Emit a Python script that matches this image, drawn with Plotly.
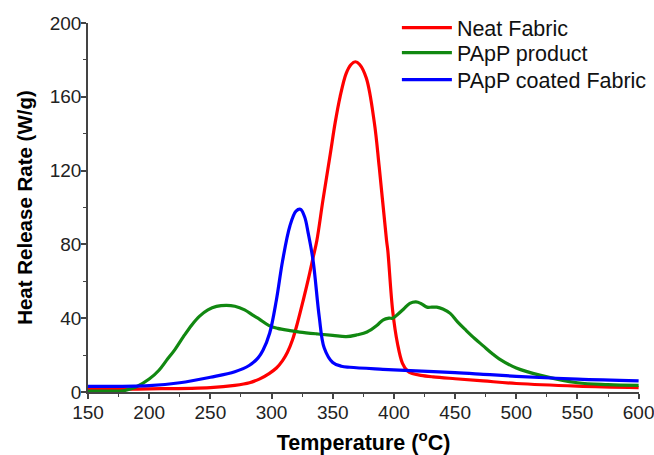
import plotly.graph_objects as go

# ---- data ----
neat_T = [150, 200, 250, 270, 282, 290, 298, 304, 309, 313, 317, 321, 326, 330, 334, 337, 342, 348,
          352, 356, 361, 365, 368.5, 372, 377.5, 384, 388, 394, 395, 399, 403, 407, 411, 415, 422,
          432, 450, 473, 500, 550, 600]
neat_V = [1.5, 1.7, 2.4, 3.6, 5, 7, 10, 13, 17, 21.5, 28, 37, 50, 61, 73, 82, 104, 129,
          146, 160, 172.7, 177.5, 179, 177.5, 170, 146, 122, 82, 76.8, 44, 26, 15.5, 11.5, 10, 9,
          8.2, 7.2, 6, 4.6, 3.2, 2.4]

papp_T = [150, 170, 180, 190, 200, 208, 214, 221, 228, 235, 241, 248, 255, 263, 270, 278, 285,
          290, 298, 305, 315, 323, 337, 350, 361, 370, 378, 386, 391, 396, 399, 403, 408, 413,
          418, 422, 427, 431, 435, 440, 446, 452, 459, 466, 473, 480, 486, 500, 520, 550, 575, 600]
papp_V = [0.5, 0.5, 0.8, 3, 7, 11.8, 17, 23, 30, 36.5, 41, 44.5, 46.4, 47, 46.5, 44.5, 41.5,
          39.5, 36, 34.5, 33.3, 32.5, 31.5, 30.7, 30, 31, 32.5, 36, 39, 40, 40, 42, 45, 48,
          48.8, 48, 46, 46, 46, 45, 42.6, 38, 33.4, 29, 25, 21, 18, 13, 9, 5, 4, 3.6]

coat_T = [150, 200, 225, 250, 270, 282, 289, 293, 298.5, 304, 309, 315, 320, 323.6, 327, 330, 334,
          339, 343, 350, 357, 364, 391, 418, 450, 473, 500, 550, 600]
coat_V = [3.1, 3.5, 5, 8, 11, 14.5, 18.5, 22.6, 32, 50, 71, 90, 98, 99, 95, 86, 71,
          40.6, 24, 16, 14, 13.4, 12.3, 11.4, 10.5, 9.6, 8.5, 7, 6]

names = ["Neat Fabric", "PApP product", "PApP coated Fabric"]
colors = ["#FF0000", "#118811", "#0000FF"]

x_ticks = [150, 200, 250, 300, 350, 400, 450, 500, 550, 600]
y_ticks = [0, 40, 80, 120, 160, 200]

FONT = "Liberation Sans, Arial, sans-serif"
legend_ids = ["legend", "legend2", "legend3"]
legend_y = [1.043, 0.975, 0.902]

fig = go.Figure()
for i, (T, V) in enumerate([(neat_T, neat_V), (papp_T, papp_V), (coat_T, coat_V)]):
    fig.add_trace(go.Scatter(x=T, y=V, name=names[i], mode="lines", legend=legend_ids[i],
                             showlegend=True,
                             line=dict(color=colors[i], width=3.2, shape="spline", smoothing=1.0)))

axis_common = dict(showgrid=False, zeroline=False, showline=True, linecolor="#444444",
                   linewidth=1.5, ticks="outside", ticklen=5, tickwidth=1.5, tickcolor="#444444",
                   tickfont=dict(family=FONT, size=19, color="#222222"),
                   mirror=False, automargin=False, ticklabeloverflow="allow")

fig.update_xaxes(range=[150, 600.3], tickvals=x_ticks, tickangle=0, ticklabelstandoff=-3,
                 minor=dict(ticks="outside", ticklen=3, tickwidth=1.2, tickcolor="#444444", dtick=25, tick0=150),
                 title=dict(text="Temperature (<sup>o</sup>C)", standoff=17,
                            font=dict(family=FONT, size=21.5, color="#000000", weight="bold")),
                 **axis_common)
fig.update_yaxes(range=[0, 200], tickvals=y_ticks, ticklabelstandoff=-4,
                 minor=dict(ticks="outside", ticklen=3, tickwidth=1.2, tickcolor="#444444", dtick=20, tick0=0),
                 title=dict(text="Heat Release Rate (W/g)", standoff=12,
                            font=dict(family=FONT, size=20.5, color="#000000", weight="bold")),
                 **axis_common)

legend_style = dict(x=0.5606, xanchor="left", yanchor="top",
                    font=dict(family=FONT, size=21.5, color="#111111"),
                    bgcolor="rgba(0,0,0,0)", itemwidth=50)

fig.update_layout(
    width=654, height=455,
    showlegend=True,
    margin=dict(l=88, r=15, t=23, b=63, autoexpand=False),
    paper_bgcolor="white", plot_bgcolor="white",
    legend=dict(y=legend_y[0], **legend_style),
    legend2=dict(y=legend_y[1], **legend_style),
    legend3=dict(y=legend_y[2], **legend_style),
)

fig.write_html("out.html", config={"displayModeBar": False},
               post_script="document.body.style.margin='0';document.body.style.padding='0';")
